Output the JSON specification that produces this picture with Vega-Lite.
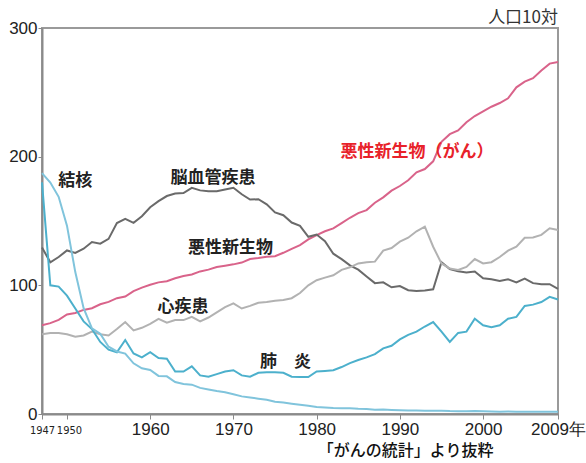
{
  "$schema": "https://vega.github.io/schema/vega-lite/v6.json",
  "autosize": "none",
  "width": 516,
  "height": 386,
  "padding": {"left": 42, "top": 28, "right": 28, "bottom": 49},
  "background": "white",
  "config": {
    "view": {"stroke": "#9a9a9a", "strokeWidth": 2},
    "font": "Liberation Sans"
  },
  "datasets": {
    "labels": [
      {"label": "結核", "year": 1951.0, "rate": 181},
      {"label": "脳血管疾患", "year": 1967.55, "rate": 183.4},
      {"label": "悪性新生物", "year": 1969.65, "rate": 129.4},
      {"label": "心疾患", "year": 1963.95, "rate": 83.5},
      {"label": "肺　炎", "year": 1976.27, "rate": 40.4}
    ],
    "redlabel": [
      {"label": "悪性新生物（がん）", "year": 1992.07, "rate": 204}
    ],
    "unit": [
      {"label": "人口10対", "year": 2009, "rate": 308}
    ],
    "source": [
      {"label": "「がんの統計」より抜粋", "year": 1990.7, "rate": -28.5}
    ],
    "series": [
      {"cause":"悪性新生物","year":1947,"rate":69.0},{"cause":"悪性新生物","year":1948,"rate":70.6},{"cause":"悪性新生物","year":1949,"rate":73.2},{"cause":"悪性新生物","year":1950,"rate":77.4},{"cause":"悪性新生物","year":1951,"rate":78.5},{"cause":"悪性新生物","year":1952,"rate":80.9},{"cause":"悪性新生物","year":1953,"rate":82.2},{"cause":"悪性新生物","year":1954,"rate":85.3},{"cause":"悪性新生物","year":1955,"rate":87.1},{"cause":"悪性新生物","year":1956,"rate":90.0},{"cause":"悪性新生物","year":1957,"rate":91.3},{"cause":"悪性新生物","year":1958,"rate":95.5},{"cause":"悪性新生物","year":1959,"rate":98.2},{"cause":"悪性新生物","year":1960,"rate":100.4},{"cause":"悪性新生物","year":1961,"rate":102.3},{"cause":"悪性新生物","year":1962,"rate":103.2},{"cause":"悪性新生物","year":1963,"rate":105.5},{"cause":"悪性新生物","year":1964,"rate":107.3},{"cause":"悪性新生物","year":1965,"rate":108.4},{"cause":"悪性新生物","year":1966,"rate":110.8},{"cause":"悪性新生物","year":1967,"rate":112.2},{"cause":"悪性新生物","year":1968,"rate":114.3},{"cause":"悪性新生物","year":1969,"rate":115.3},{"cause":"悪性新生物","year":1970,"rate":116.3},{"cause":"悪性新生物","year":1971,"rate":117.7},{"cause":"悪性新生物","year":1972,"rate":120.4},{"cause":"悪性新生物","year":1973,"rate":121.2},{"cause":"悪性新生物","year":1974,"rate":122.2},{"cause":"悪性新生物","year":1975,"rate":122.6},{"cause":"悪性新生物","year":1976,"rate":125.3},{"cause":"悪性新生物","year":1977,"rate":128.4},{"cause":"悪性新生物","year":1978,"rate":131.3},{"cause":"悪性新生物","year":1979,"rate":135.7},{"cause":"悪性新生物","year":1980,"rate":139.1},{"cause":"悪性新生物","year":1981,"rate":142.0},{"cause":"悪性新生物","year":1982,"rate":144.2},{"cause":"悪性新生物","year":1983,"rate":148.3},{"cause":"悪性新生物","year":1984,"rate":152.5},{"cause":"悪性新生物","year":1985,"rate":156.1},{"cause":"悪性新生物","year":1986,"rate":158.5},{"cause":"悪性新生物","year":1987,"rate":164.2},{"cause":"悪性新生物","year":1988,"rate":168.4},{"cause":"悪性新生物","year":1989,"rate":173.6},{"cause":"悪性新生物","year":1990,"rate":177.2},{"cause":"悪性新生物","year":1991,"rate":181.7},{"cause":"悪性新生物","year":1992,"rate":187.8},{"cause":"悪性新生物","year":1993,"rate":190.4},{"cause":"悪性新生物","year":1994,"rate":196.4},{"cause":"悪性新生物","year":1995,"rate":211.6},{"cause":"悪性新生物","year":1996,"rate":217.5},{"cause":"悪性新生物","year":1997,"rate":220.4},{"cause":"悪性新生物","year":1998,"rate":226.7},{"cause":"悪性新生物","year":1999,"rate":231.6},{"cause":"悪性新生物","year":2000,"rate":235.2},{"cause":"悪性新生物","year":2001,"rate":238.8},{"cause":"悪性新生物","year":2002,"rate":241.7},{"cause":"悪性新生物","year":2003,"rate":245.4},{"cause":"悪性新生物","year":2004,"rate":253.9},{"cause":"悪性新生物","year":2005,"rate":258.3},{"cause":"悪性新生物","year":2006,"rate":261.0},{"cause":"悪性新生物","year":2007,"rate":266.9},{"cause":"悪性新生物","year":2008,"rate":272.3},{"cause":"悪性新生物","year":2009,"rate":273.5},
      {"cause":"脳血管疾患","year":1947,"rate":129.4},{"cause":"脳血管疾患","year":1948,"rate":117.9},{"cause":"脳血管疾患","year":1949,"rate":122.0},{"cause":"脳血管疾患","year":1950,"rate":127.1},{"cause":"脳血管疾患","year":1951,"rate":125.2},{"cause":"脳血管疾患","year":1952,"rate":128.5},{"cause":"脳血管疾患","year":1953,"rate":133.7},{"cause":"脳血管疾患","year":1954,"rate":132.4},{"cause":"脳血管疾患","year":1955,"rate":136.1},{"cause":"脳血管疾患","year":1956,"rate":148.4},{"cause":"脳血管疾患","year":1957,"rate":151.7},{"cause":"脳血管疾患","year":1958,"rate":148.6},{"cause":"脳血管疾患","year":1959,"rate":153.7},{"cause":"脳血管疾患","year":1960,"rate":160.7},{"cause":"脳血管疾患","year":1961,"rate":165.4},{"cause":"脳血管疾患","year":1962,"rate":169.4},{"cause":"脳血管疾患","year":1963,"rate":171.4},{"cause":"脳血管疾患","year":1964,"rate":171.7},{"cause":"脳血管疾患","year":1965,"rate":175.8},{"cause":"脳血管疾患","year":1966,"rate":173.8},{"cause":"脳血管疾患","year":1967,"rate":173.1},{"cause":"脳血管疾患","year":1968,"rate":173.1},{"cause":"脳血管疾患","year":1969,"rate":174.4},{"cause":"脳血管疾患","year":1970,"rate":175.8},{"cause":"脳血管疾患","year":1971,"rate":170.8},{"cause":"脳血管疾患","year":1972,"rate":166.7},{"cause":"脳血管疾患","year":1973,"rate":166.9},{"cause":"脳血管疾患","year":1974,"rate":163.0},{"cause":"脳血管疾患","year":1975,"rate":156.7},{"cause":"脳血管疾患","year":1976,"rate":154.5},{"cause":"脳血管疾患","year":1977,"rate":148.8},{"cause":"脳血管疾患","year":1978,"rate":146.2},{"cause":"脳血管疾患","year":1979,"rate":137.7},{"cause":"脳血管疾患","year":1980,"rate":139.5},{"cause":"脳血管疾患","year":1981,"rate":134.3},{"cause":"脳血管疾患","year":1982,"rate":124.6},{"cause":"脳血管疾患","year":1983,"rate":120.4},{"cause":"脳血管疾患","year":1984,"rate":115.5},{"cause":"脳血管疾患","year":1985,"rate":112.2},{"cause":"脳血管疾患","year":1986,"rate":106.9},{"cause":"脳血管疾患","year":1987,"rate":101.7},{"cause":"脳血管疾患","year":1988,"rate":102.3},{"cause":"脳血管疾患","year":1989,"rate":98.5},{"cause":"脳血管疾患","year":1990,"rate":99.4},{"cause":"脳血管疾患","year":1991,"rate":96.2},{"cause":"脳血管疾患","year":1992,"rate":95.6},{"cause":"脳血管疾患","year":1993,"rate":96.0},{"cause":"脳血管疾患","year":1994,"rate":96.9},{"cause":"脳血管疾患","year":1995,"rate":117.9},{"cause":"脳血管疾患","year":1996,"rate":112.6},{"cause":"脳血管疾患","year":1997,"rate":111.0},{"cause":"脳血管疾患","year":1998,"rate":110.0},{"cause":"脳血管疾患","year":1999,"rate":110.8},{"cause":"脳血管疾患","year":2000,"rate":105.5},{"cause":"脳血管疾患","year":2001,"rate":104.7},{"cause":"脳血管疾患","year":2002,"rate":103.4},{"cause":"脳血管疾患","year":2003,"rate":104.7},{"cause":"脳血管疾患","year":2004,"rate":102.3},{"cause":"脳血管疾患","year":2005,"rate":105.3},{"cause":"脳血管疾患","year":2006,"rate":101.7},{"cause":"脳血管疾患","year":2007,"rate":100.8},{"cause":"脳血管疾患","year":2008,"rate":100.9},{"cause":"脳血管疾患","year":2009,"rate":97.2},
      {"cause":"心疾患","year":1947,"rate":62},{"cause":"心疾患","year":1948,"rate":63},{"cause":"心疾患","year":1949,"rate":63},{"cause":"心疾患","year":1950,"rate":62},{"cause":"心疾患","year":1951,"rate":60},{"cause":"心疾患","year":1952,"rate":61},{"cause":"心疾患","year":1953,"rate":64},{"cause":"心疾患","year":1954,"rate":62},{"cause":"心疾患","year":1955,"rate":61},{"cause":"心疾患","year":1956,"rate":66},{"cause":"心疾患","year":1957,"rate":71.5},{"cause":"心疾患","year":1958,"rate":65},{"cause":"心疾患","year":1959,"rate":67},{"cause":"心疾患","year":1960,"rate":70},{"cause":"心疾患","year":1961,"rate":74},{"cause":"心疾患","year":1962,"rate":71},{"cause":"心疾患","year":1963,"rate":73},{"cause":"心疾患","year":1964,"rate":73},{"cause":"心疾患","year":1965,"rate":75.5},{"cause":"心疾患","year":1966,"rate":72},{"cause":"心疾患","year":1967,"rate":75},{"cause":"心疾患","year":1968,"rate":79},{"cause":"心疾患","year":1969,"rate":83},{"cause":"心疾患","year":1970,"rate":86},{"cause":"心疾患","year":1971,"rate":82},{"cause":"心疾患","year":1972,"rate":84},{"cause":"心疾患","year":1973,"rate":86.5},{"cause":"心疾患","year":1974,"rate":87},{"cause":"心疾患","year":1975,"rate":88},{"cause":"心疾患","year":1976,"rate":88.6},{"cause":"心疾患","year":1977,"rate":90},{"cause":"心疾患","year":1978,"rate":94},{"cause":"心疾患","year":1979,"rate":100},{"cause":"心疾患","year":1980,"rate":104},{"cause":"心疾患","year":1981,"rate":106},{"cause":"心疾患","year":1982,"rate":107.8},{"cause":"心疾患","year":1983,"rate":112},{"cause":"心疾患","year":1984,"rate":114},{"cause":"心疾患","year":1985,"rate":117},{"cause":"心疾患","year":1986,"rate":117.9},{"cause":"心疾患","year":1987,"rate":118.4},{"cause":"心疾患","year":1988,"rate":127},{"cause":"心疾患","year":1989,"rate":129},{"cause":"心疾患","year":1990,"rate":134},{"cause":"心疾患","year":1991,"rate":137},{"cause":"心疾患","year":1992,"rate":142},{"cause":"心疾患","year":1993,"rate":145.6},{"cause":"心疾患","year":1994,"rate":130},{"cause":"心疾患","year":1995,"rate":117},{"cause":"心疾患","year":1996,"rate":113},{"cause":"心疾患","year":1997,"rate":112},{"cause":"心疾患","year":1998,"rate":114.3},{"cause":"心疾患","year":1999,"rate":120.4},{"cause":"心疾患","year":2000,"rate":117},{"cause":"心疾患","year":2001,"rate":118},{"cause":"心疾患","year":2002,"rate":122},{"cause":"心疾患","year":2003,"rate":127},{"cause":"心疾患","year":2004,"rate":130},{"cause":"心疾患","year":2005,"rate":137},{"cause":"心疾患","year":2006,"rate":137.2},{"cause":"心疾患","year":2007,"rate":139.2},{"cause":"心疾患","year":2008,"rate":144.4},{"cause":"心疾患","year":2009,"rate":143},
      {"cause":"肺炎","year":1947,"rate":180},{"cause":"肺炎","year":1948,"rate":100},{"cause":"肺炎","year":1949,"rate":99},{"cause":"肺炎","year":1950,"rate":92},{"cause":"肺炎","year":1951,"rate":82},{"cause":"肺炎","year":1952,"rate":72},{"cause":"肺炎","year":1953,"rate":66},{"cause":"肺炎","year":1954,"rate":56},{"cause":"肺炎","year":1955,"rate":50},{"cause":"肺炎","year":1956,"rate":48},{"cause":"肺炎","year":1957,"rate":57.5},{"cause":"肺炎","year":1958,"rate":47},{"cause":"肺炎","year":1959,"rate":44},{"cause":"肺炎","year":1960,"rate":48},{"cause":"肺炎","year":1961,"rate":43.5},{"cause":"肺炎","year":1962,"rate":43},{"cause":"肺炎","year":1963,"rate":33},{"cause":"肺炎","year":1964,"rate":33},{"cause":"肺炎","year":1965,"rate":37},{"cause":"肺炎","year":1966,"rate":30},{"cause":"肺炎","year":1967,"rate":29},{"cause":"肺炎","year":1968,"rate":31},{"cause":"肺炎","year":1969,"rate":33},{"cause":"肺炎","year":1970,"rate":34},{"cause":"肺炎","year":1971,"rate":30},{"cause":"肺炎","year":1972,"rate":29},{"cause":"肺炎","year":1973,"rate":32},{"cause":"肺炎","year":1974,"rate":32.5},{"cause":"肺炎","year":1975,"rate":32.5},{"cause":"肺炎","year":1976,"rate":32},{"cause":"肺炎","year":1977,"rate":29},{"cause":"肺炎","year":1978,"rate":28.7},{"cause":"肺炎","year":1979,"rate":28.7},{"cause":"肺炎","year":1980,"rate":33},{"cause":"肺炎","year":1981,"rate":33.5},{"cause":"肺炎","year":1982,"rate":34},{"cause":"肺炎","year":1983,"rate":36.5},{"cause":"肺炎","year":1984,"rate":39.6},{"cause":"肺炎","year":1985,"rate":42},{"cause":"肺炎","year":1986,"rate":44},{"cause":"肺炎","year":1987,"rate":46.5},{"cause":"肺炎","year":1988,"rate":51},{"cause":"肺炎","year":1989,"rate":53},{"cause":"肺炎","year":1990,"rate":58},{"cause":"肺炎","year":1991,"rate":61.5},{"cause":"肺炎","year":1992,"rate":64},{"cause":"肺炎","year":1993,"rate":68},{"cause":"肺炎","year":1994,"rate":71.5},{"cause":"肺炎","year":1995,"rate":64},{"cause":"肺炎","year":1996,"rate":56},{"cause":"肺炎","year":1997,"rate":63},{"cause":"肺炎","year":1998,"rate":64},{"cause":"肺炎","year":1999,"rate":74},{"cause":"肺炎","year":2000,"rate":69},{"cause":"肺炎","year":2001,"rate":67.5},{"cause":"肺炎","year":2002,"rate":69},{"cause":"肺炎","year":2003,"rate":74},{"cause":"肺炎","year":2004,"rate":75.5},{"cause":"肺炎","year":2005,"rate":84},{"cause":"肺炎","year":2006,"rate":85},{"cause":"肺炎","year":2007,"rate":87},{"cause":"肺炎","year":2008,"rate":91},{"cause":"肺炎","year":2009,"rate":89},
      {"cause":"結核","year":1947,"rate":187.2},{"cause":"結核","year":1948,"rate":179.9},{"cause":"結核","year":1949,"rate":168.8},{"cause":"結核","year":1950,"rate":146.4},{"cause":"結核","year":1951,"rate":110.3},{"cause":"結核","year":1952,"rate":82.2},{"cause":"結核","year":1953,"rate":66.5},{"cause":"結核","year":1954,"rate":62.4},{"cause":"結核","year":1955,"rate":52.3},{"cause":"結核","year":1956,"rate":48.6},{"cause":"結核","year":1957,"rate":46.9},{"cause":"結核","year":1958,"rate":39.4},{"cause":"結核","year":1959,"rate":35.5},{"cause":"結核","year":1960,"rate":34.2},{"cause":"結核","year":1961,"rate":29.6},{"cause":"結核","year":1962,"rate":29.3},{"cause":"結核","year":1963,"rate":24.9},{"cause":"結核","year":1964,"rate":23.3},{"cause":"結核","year":1965,"rate":22.8},{"cause":"結核","year":1966,"rate":20.3},{"cause":"結核","year":1967,"rate":19.0},{"cause":"結核","year":1968,"rate":17.8},{"cause":"結核","year":1969,"rate":16.9},{"cause":"結核","year":1970,"rate":15.4},{"cause":"結核","year":1971,"rate":13.7},{"cause":"結核","year":1972,"rate":12.8},{"cause":"結核","year":1973,"rate":11.9},{"cause":"結核","year":1974,"rate":11.0},{"cause":"結核","year":1975,"rate":9.5},{"cause":"結核","year":1976,"rate":8.9},{"cause":"結核","year":1977,"rate":8.0},{"cause":"結核","year":1978,"rate":7.2},{"cause":"結核","year":1979,"rate":6.5},{"cause":"結核","year":1980,"rate":5.5},{"cause":"結核","year":1981,"rate":5.1},{"cause":"結核","year":1982,"rate":4.6},{"cause":"結核","year":1983,"rate":4.5},{"cause":"結核","year":1984,"rate":4.4},{"cause":"結核","year":1985,"rate":4.0},{"cause":"結核","year":1986,"rate":3.9},{"cause":"結核","year":1987,"rate":3.4},{"cause":"結核","year":1988,"rate":3.5},{"cause":"結核","year":1989,"rate":3.2},{"cause":"結核","year":1990,"rate":3.0},{"cause":"結核","year":1991,"rate":2.8},{"cause":"結核","year":1992,"rate":2.8},{"cause":"結核","year":1993,"rate":2.6},{"cause":"結核","year":1994,"rate":2.6},{"cause":"結核","year":1995,"rate":2.6},{"cause":"結核","year":1996,"rate":2.3},{"cause":"結核","year":1997,"rate":2.2},{"cause":"結核","year":1998,"rate":2.2},{"cause":"結核","year":1999,"rate":2.3},{"cause":"結核","year":2000,"rate":2.1},{"cause":"結核","year":2001,"rate":2.0},{"cause":"結核","year":2002,"rate":1.8},{"cause":"結核","year":2003,"rate":1.9},{"cause":"結核","year":2004,"rate":1.8},{"cause":"結核","year":2005,"rate":1.8},{"cause":"結核","year":2006,"rate":1.8},{"cause":"結核","year":2007,"rate":1.7},{"cause":"結核","year":2008,"rate":1.8},{"cause":"結核","year":2009,"rate":1.7}
    ]
  },
  "layer": [
    {
      "data": {"name": "series"},
      "mark": {"type": "line", "strokeWidth": 2, "clip": false},
      "encoding": {
        "x": {
          "field": "year", "type": "quantitative",
          "scale": {"domain": [1947, 2009], "nice": false, "zero": false},
          "axis": {
            "title": null, "grid": false,
            "values": [1947, 1950, 1960, 1970, 1980, 1990, 2000, 2009],
            "format": "d",
            "labelExpr": "datum.value == 2009 ? '2009年' : datum.label",
            "labelFont": {"condition": {"test": "datum.value <= 1950", "value": "DejaVu Sans Condensed, Liberation Sans"}, "value": "Liberation Sans"},
            "labelFontSize": {"condition": {"test": "datum.value <= 1950", "value": 11}, "value": 17},
            "labelOffset": {"condition": {"test": "datum.value == 1950", "value": 2}, "value": 0},
            "labelPadding": {"condition": {"test": "datum.value <= 1950", "value": 5}, "value": 2},
            "labelColor": "#222222",
            "labelOverlap": false,
            "labelFlush": false,
            "tickSize": 5,
            "tickColor": "#8a8a8a",
            "domainColor": "#8a8a8a",
            "domainWidth": 2
          }
        },
        "y": {
          "field": "rate", "type": "quantitative",
          "scale": {"domain": [0, 300], "nice": false},
          "axis": {
            "title": null, "grid": false,
            "values": [0, 100, 200, 300],
            "labelFontSize": 17,
            "labelColor": "#222222",
            "labelPadding": 1,
            "tickSize": 4,
            "tickColor": "#8a8a8a",
            "domainColor": "#8a8a8a",
            "domainWidth": 2
          }
        },
        "color": {
          "field": "cause", "type": "nominal", "legend": null,
          "scale": {
            "domain": ["悪性新生物", "脳血管疾患", "心疾患", "肺炎", "結核"],
            "range": ["#d9638a", "#6a6a6a", "#b2b2b2", "#4cb0cc", "#80c4dc"]
          }
        },
        "detail": {"field": "cause"}
      }
    },
    {
      "data": {"name": "labels"},
      "mark": {"type": "text", "font": "Noto Sans CJK JP", "fontSize": 17, "fontWeight": "bold", "color": "#222222", "align": "center", "baseline": "middle"},
      "encoding": {
        "x": {"field": "year", "type": "quantitative"},
        "y": {"field": "rate", "type": "quantitative"},
        "text": {"field": "label"}
      }
    },
    {
      "data": {"name": "redlabel"},
      "mark": {"type": "text", "font": "Noto Sans CJK JP", "fontSize": 17, "fontWeight": "bold", "color": "#e8222a", "align": "center", "baseline": "middle"},
      "encoding": {
        "x": {"field": "year", "type": "quantitative"},
        "y": {"field": "rate", "type": "quantitative"},
        "text": {"field": "label"}
      }
    },
    {
      "data": {"name": "unit"},
      "mark": {"type": "text", "font": "Noto Sans CJK JP", "fontSize": 17, "fontWeight": "normal", "color": "#333333", "align": "right", "baseline": "middle"},
      "encoding": {
        "x": {"field": "year", "type": "quantitative"},
        "y": {"field": "rate", "type": "quantitative"},
        "text": {"field": "label"}
      }
    },
    {
      "data": {"name": "source"},
      "mark": {"type": "text", "font": "Noto Sans CJK JP", "fontSize": 16, "fontWeight": 500, "color": "#111111", "align": "center", "baseline": "middle"},
      "encoding": {
        "x": {"field": "year", "type": "quantitative"},
        "y": {"field": "rate", "type": "quantitative"},
        "text": {"field": "label"}
      }
    }
  ]
}
